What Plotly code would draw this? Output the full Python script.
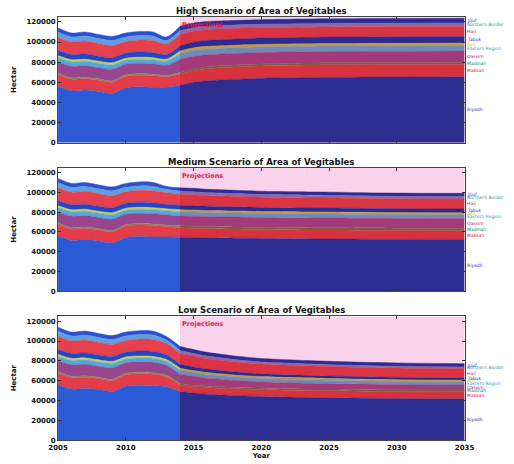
import plotly.graph_objects as go

# ---------------- data (thousand hectares) ----------------
regions = ["Riyadh", "Makkah", "Madinah", "Qassim", "Eastern Region", "Asir",
           "Tabuk", "Hail", "Northern Border", "Jouf"]

hist_years = [2005, 2006, 2007, 2008, 2009, 2010, 2011, 2012]
hist = {
    "Riyadh":          [56.0, 51.5, 52.5, 51.0, 49.0, 54.5, 55.5, 55.0],
    "Makkah":          [11.5, 11.5, 11.0, 11.0, 11.0, 11.5, 11.5, 11.5],
    "Madinah":         [1.5, 1.5, 1.5, 1.5, 1.5, 1.5, 1.5, 1.5],
    "Qassim":          [11.0, 11.5, 11.5, 11.0, 11.5, 10.5, 10.5, 10.5],
    "Eastern Region":  [4.5, 4.5, 4.5, 4.5, 4.5, 4.0, 4.0, 4.0],
    "Asir":            [2.0, 2.0, 2.0, 2.0, 2.0, 2.0, 2.0, 2.0],
    "Tabuk":           [5.0, 5.0, 5.0, 5.0, 5.0, 5.0, 5.0, 5.0],
    "Hail":            [13.0, 12.5, 13.0, 12.5, 12.0, 11.5, 12.0, 12.0],
    "Northern Border": [5.5, 5.0, 5.0, 5.0, 5.0, 4.5, 4.5, 4.5],
    "Jouf":            [4.0, 4.0, 4.0, 4.0, 4.0, 4.0, 4.0, 4.0],
}

scen_years = [2013, 2014, 2015, 2016, 2018, 2020, 2025, 2030, 2035]
high = {
    "Riyadh":          [55.0, 57.0, 60.0, 61.5, 63.0, 64.0, 65.0, 65.3, 65.5],
    "Makkah":          [10.5, 11.0, 11.5, 12.0, 12.2, 12.3, 12.4, 12.5, 12.5],
    "Madinah":         [1.5, 1.7, 1.8, 1.9, 2.0, 2.0, 2.0, 2.0, 2.0],
    "Qassim":          [10.0, 13.0, 12.5, 12.0, 11.5, 11.3, 11.1, 11.0, 11.0],
    "Eastern Region":  [4.0, 6.0, 6.0, 5.8, 5.7, 5.6, 5.5, 5.5, 5.5],
    "Asir":            [2.0, 2.5, 2.5, 2.5, 2.5, 2.5, 2.5, 2.5, 2.5],
    "Tabuk":           [4.5, 5.0, 5.5, 5.8, 6.0, 6.2, 6.4, 6.5, 6.5],
    "Hail":            [10.5, 11.5, 11.0, 10.8, 10.5, 10.3, 10.1, 10.0, 10.0],
    "Northern Border": [3.5, 3.5, 3.5, 3.5, 3.5, 3.5, 3.5, 3.5, 3.5],
    "Jouf":            [3.5, 4.5, 4.5, 4.5, 4.5, 4.5, 4.5, 4.5, 4.5],
}
medium = {
    "Riyadh":          [55.0, 54.8, 54.5, 54.2, 53.8, 53.5, 53.0, 52.7, 52.5],
    "Makkah":          [10.5, 9.4, 9.3, 9.2, 9.1, 9.0, 8.9, 8.8, 8.8],
    "Madinah":         [1.5, 2.0, 2.1, 2.1, 2.2, 2.2, 2.3, 2.3, 2.3],
    "Qassim":          [10.5, 9.8, 9.9, 9.9, 9.9, 9.9, 9.9, 9.9, 9.9],
    "Eastern Region":  [4.0, 4.5, 4.4, 4.3, 4.2, 4.1, 4.0, 3.9, 3.9],
    "Asir":            [2.0, 2.0, 2.0, 2.0, 2.0, 2.0, 2.0, 2.0, 2.0],
    "Tabuk":           [4.5, 4.5, 4.4, 4.3, 4.2, 4.1, 4.0, 3.9, 3.9],
    "Hail":            [11.5, 11.0, 10.9, 10.7, 10.5, 10.3, 10.1, 9.9, 9.9],
    "Northern Border": [3.5, 3.0, 3.0, 2.9, 2.8, 2.7, 2.7, 2.6, 2.6],
    "Jouf":            [3.0, 3.5, 3.5, 3.4, 3.4, 3.3, 3.3, 3.2, 3.2],
}
low = {
    "Riyadh":          [54.0, 49.0, 47.5, 46.3, 45.0, 44.0, 42.8, 42.0, 41.7],
    "Makkah":          [10.0, 6.5, 6.6, 6.7, 6.8, 6.9, 7.0, 7.1, 7.2],
    "Madinah":         [1.5, 1.5, 1.5, 1.5, 1.6, 1.6, 1.7, 1.7, 1.7],
    "Qassim":          [10.0, 9.5, 8.8, 8.0, 7.0, 6.3, 5.6, 5.2, 5.0],
    "Eastern Region":  [4.0, 4.0, 3.9, 3.8, 3.6, 3.5, 3.4, 3.3, 3.3],
    "Asir":            [2.0, 2.0, 1.9, 1.9, 1.8, 1.8, 1.7, 1.7, 1.7],
    "Tabuk":           [4.5, 4.0, 3.7, 3.5, 3.1, 2.8, 2.5, 2.4, 2.3],
    "Hail":            [11.5, 11.0, 10.8, 10.5, 10.2, 9.9, 9.6, 9.4, 9.3],
    "Northern Border": [3.5, 3.0, 2.8, 2.6, 2.3, 2.1, 1.9, 1.8, 1.7],
    "Jouf":            [3.5, 4.0, 3.9, 3.8, 3.6, 3.5, 3.4, 3.3, 3.3],
}

scenarios = [("High Scenario of Area of Vegitables", high),
             ("Medium Scenario of Area of Vegitables", medium),
             ("Low Scenario of Area of Vegitables", low)]

proj_start = 2014
x_ticks = [2005, 2010, 2015, 2020, 2025, 2030, 2035]
y_ticks = [0, 20000, 40000, 60000, 80000, 100000, 120000]

# ---------------- styles ----------------
hist_colors = {
    "Riyadh": "#2b5ad6", "Makkah": "#e43c48", "Madinah": "#8a8458",
    "Qassim": "#97468e", "Eastern Region": "#55a8dc", "Asir": "#c9d24a",
    "Tabuk": "#2545c4", "Hail": "#e5404c", "Northern Border": "#5f9fe0",
    "Jouf": "#2a4fcf",
}
proj_colors = {
    "Riyadh": "#2c2d8e", "Makkah": "#d8323e", "Madinah": "#6e6444",
    "Qassim": "#a53a7a", "Eastern Region": "#6f8cb8", "Asir": "#c99a3a",
    "Tabuk": "#2b2b92", "Hail": "#da3442", "Northern Border": "#8b6aa6",
    "Jouf": "#2d2c94",
}
label_colors = {
    "Riyadh": "#2233cc", "Makkah": "#e0203a", "Madinah": "#108a60",
    "Qassim": "#b02080", "Eastern Region": "#30a0c0", "Asir": "#c8c820",
    "Tabuk": "#1a3acc", "Hail": "#e0203a", "Northern Border": "#2a9a9a",
    "Jouf": "#2a3acc",
}

W, H = 514, 464
x_dom = [50 / W, 473 / W]
y_px = [(17, 144), (169, 294), (319, 444)]
font = "DejaVu Sans"
tick_font = dict(family=font, size=7, color="#111", weight="bold")

fig = go.Figure()
annotations = []
shapes = []

for k, (title, sc) in enumerate(scenarios):
    ax = "" if k == 0 else str(k + 1)
    xa, ya = "x" + ax, "y" + ax
    hx = hist_years + scen_years[:2]
    px = scen_years[1:]
    for r in regions:
        hy = [v * 1000 for v in hist[r] + sc[r][:2]]
        fig.add_trace(go.Scatter(
            x=hx, y=hy, stackgroup=f"h{k}", mode="lines",
            line=dict(width=0.5, color=hist_colors[r], shape="spline", smoothing=0.8),
            fillcolor=hist_colors[r], xaxis=xa, yaxis=ya, showlegend=False,
            hoverinfo="skip"))
    for r in regions:
        py = [v * 1000 for v in sc[r][1:]]
        fig.add_trace(go.Scatter(
            x=px, y=py, stackgroup=f"p{k}", mode="lines",
            line=dict(width=0.5, color=proj_colors[r], shape="spline", smoothing=0.8),
            fillcolor=proj_colors[r], xaxis=xa, yaxis=ya, showlegend=False,
            hoverinfo="skip"))

    top, bot = y_px[k]
    dom = [(H - bot) / H, (H - top) / H]
    fig.layout["xaxis" + ax] = dict(
        domain=x_dom, range=[2005, 2035], anchor=ya, tickvals=x_ticks,
        showticklabels=(k == 2), ticks="inside", ticklen=3, tickcolor="#333",
        showline=True, mirror="ticks", linecolor="#444", linewidth=1,
        showgrid=False, zeroline=False, tickfont=tick_font,
        title=dict(text="Year" if k == 2 else "", standoff=2,
                   font=dict(family=font, size=7, color="#111", weight="bold")))
    fig.layout["yaxis" + ax] = dict(
        domain=dom, range=[0, 125000], anchor=xa, tickvals=y_ticks,
        tickformat="d", ticks="inside", ticklen=3, tickcolor="#333",
        showline=True, mirror="ticks", linecolor="#444", linewidth=1,
        showgrid=False, zeroline=False, tickfont=tick_font,
        title=dict(text="Hectar", standoff=8,
                   font=dict(family=font, size=7, color="#111", weight="bold")))

    shapes.append(dict(type="rect", xref=xa, yref=ya, x0=proj_start, x1=2035,
                       y0=0, y1=125000, fillcolor="#f9d2ec", line=dict(width=0),
                       layer="below"))
    annotations.append(dict(text=title, xref="paper", yref="paper",
                            x=sum(x_dom) / 2, y=dom[1], xanchor="center",
                            yanchor="bottom", showarrow=False, yshift=-1,
                            font=dict(family=font, size=8.5, color="#111",
                                      weight="bold")))
    annotations.append(dict(text="Projections", xref=xa, yref="paper",
                            x=proj_start, y=dom[1], xanchor="left",
                            yanchor="top", showarrow=False, yshift=-2,
                            font=dict(family=font, size=6.5, color="#e0203a",
                                      weight="bold")))
    cum = 0.0
    for r in regions:
        v = sc[r][-1]
        annotations.append(dict(text=r, xref=xa, yref=ya, x=2035,
                                y=(cum + v / 2) * 1000, xanchor="left",
                                yanchor="middle", showarrow=False,
                                font=dict(family=font, size=4.5,
                                          color=label_colors[r])))
        cum += v

fig.update_layout(width=W, height=H, margin=dict(l=0, r=0, t=0, b=0),
                  paper_bgcolor="white", plot_bgcolor="white",
                  annotations=annotations, shapes=shapes)

fig.write_html("out.html")
